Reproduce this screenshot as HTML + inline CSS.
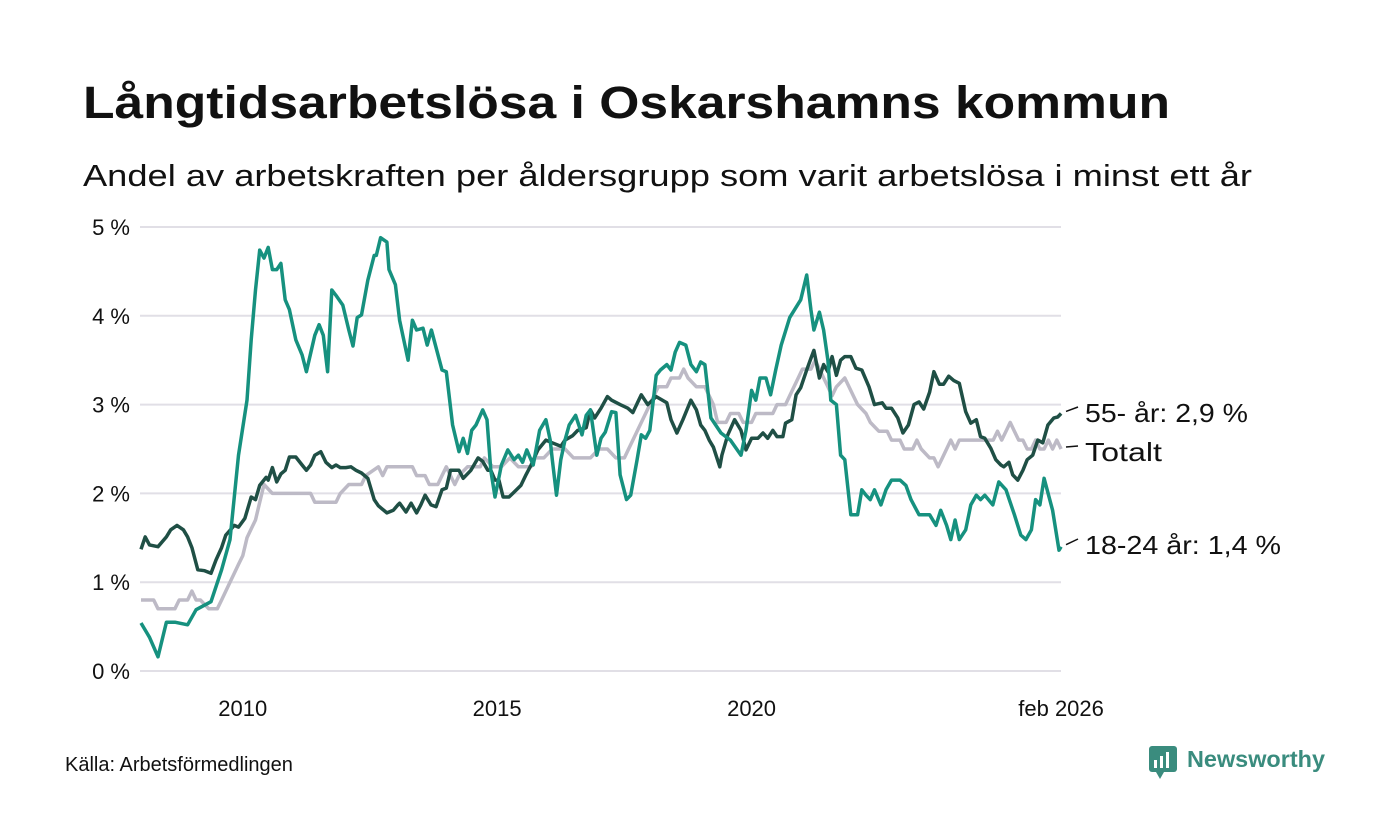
<!DOCTYPE html>
<html><head><meta charset="utf-8"><style>
html,body{margin:0;padding:0;background:#fff;}
svg{display:block;font-family:"Liberation Sans","DejaVu Sans",sans-serif;}
</style></head><body>
<svg id="chart" width="1400" height="840" viewBox="0 0 1400 840" xmlns="http://www.w3.org/2000/svg">
<text x="83" y="118" font-size="45" font-weight="bold" fill="#111" textLength="1087" lengthAdjust="spacingAndGlyphs">Långtidsarbetslösa i Oskarshamns kommun</text>
<text x="83" y="186" font-size="31" fill="#111" textLength="1169" lengthAdjust="spacingAndGlyphs">Andel av arbetskraften per åldersgrupp som varit arbetslösa i minst ett år</text>
<g id="grid"></g>
<g id="yticks"></g>
<g id="xticks"></g>
<g id="series"></g>
<g id="labels"></g>
<text x="65" y="771" font-size="20" fill="#111">Källa: Arbetsförmedlingen</text>
<g>
<rect x="1149" y="746" width="28" height="26" rx="3" fill="#3a8c7e"/>
<polygon points="1156,772 1164,772 1160,779" fill="#3a8c7e"/>
<rect x="1154" y="760" width="3" height="8" fill="#fff"/><rect x="1160" y="756" width="3" height="12" fill="#fff"/><rect x="1166" y="752" width="3" height="16" fill="#fff"/>
<text x="1187" y="767" font-size="23" font-weight="bold" fill="#3a8c7e" textLength="138" lengthAdjust="spacingAndGlyphs">Newsworthy</text>
</g>
</svg>
<script>
const yTicks=[0,1,2,3,4,5];
const yTickLabels=["0 %","1 %","2 %","3 %","4 %","5 %"];
const xTickMonths=[24,84,144,217];
const xTickLabels=["2010","2015","2020","feb 2026"];
// month index since Jan 2008
const youngMonths=[0,2,4,6,8,11,13,16.5,19,21,23,25,26,27,28,29,30,31,32,33,34,35,36.5,38,39,41,42,43,44,45,46,47.6,49,50,51,52,53.5,55,55.5,56.5,58,58.5,60,61,63,64,65,66.5,67.5,68.5,71,72,73.5,75,76,77,78,79,80.6,81.6,82.5,83.5,85,86.5,88,89,90,91,92.5,94,95.5,96.5,97,98,99,100,101,102.5,104,105,106,107.5,108.5,109.5,111,112,113,114.5,115.5,117,118,119,120,121.5,122.5,124,125,126,127,128.5,129.7,131,132,133,134.4,136.8,139,141.5,142.7,144,145,146,147.4,148.5,149.7,151,153,155.6,157,158,158.7,160,161,162,162.7,164,165,166,167.4,169,170,171,172,173,174.5,175.7,177,179,180.4,181.6,183.5,186,187.5,188.6,190,191,192,193,194.5,195.7,197,198,199,200.9,202.3,204,205,206,207.5,208.7,210,211,212,213,215,216.5,217];
const youngValues=[0.54,0.38,0.16,0.55,0.55,0.52,0.69,0.78,1.14,1.48,2.43,3.05,3.73,4.29,4.74,4.65,4.77,4.52,4.52,4.59,4.18,4.07,3.73,3.56,3.37,3.78,3.9,3.78,3.37,4.29,4.23,4.12,3.84,3.66,3.98,4.01,4.4,4.68,4.68,4.88,4.83,4.52,4.35,3.95,3.5,3.95,3.84,3.86,3.67,3.84,3.39,3.37,2.77,2.47,2.62,2.45,2.71,2.77,2.94,2.83,2.26,1.96,2.32,2.49,2.38,2.43,2.35,2.49,2.32,2.71,2.83,2.6,2.38,1.98,2.38,2.6,2.77,2.88,2.66,2.88,2.94,2.43,2.62,2.69,2.92,2.91,2.21,1.93,1.98,2.38,2.66,2.62,2.71,3.33,3.39,3.45,3.39,3.59,3.7,3.67,3.45,3.37,3.48,3.45,2.85,2.68,2.6,2.43,2.71,3.16,3.05,3.3,3.3,3.11,3.39,3.67,3.98,4.18,4.46,4.07,3.84,4.04,3.84,3.5,3.05,3.0,2.43,2.38,1.76,1.76,2.04,1.98,1.93,2.04,1.87,2.04,2.15,2.15,2.09,1.93,1.76,1.76,1.64,1.81,1.64,1.48,1.7,1.48,1.59,1.87,1.98,1.93,1.98,1.87,2.13,2.04,1.9,1.76,1.53,1.48,1.59,1.93,1.87,2.17,1.81,1.36,1.4];
const oldMonths=[0,1,2,4,6,7,8.5,10,11,12,13.4,15,16.5,17.7,19,20,22,23,24.5,26,27,28,29.5,30,31,32,33,34,35,36.5,38,39,40,41,42.4,43.6,45,46,47,48.3,49.5,50.7,52,53.5,55,56,58,59.5,60.6,61,62.5,63.7,65,66,67,68.4,69.6,71,72,73,75,76,77.8,79.5,80.6,81.8,82.5,83.5,84.4,85.4,86.8,87.7,89.6,90.8,92,93.6,95.5,97,99,100,101.8,103,105,106,107,108.5,110,111,113,114.8,116,118,119.5,121.5,124,125,126.4,127.8,129.7,131,132,133,134,135,136.5,137,138.4,140,141.5,142.7,144,145.5,146.7,147.8,149,150,151.4,152,153.5,154.5,155.6,157,158,158.7,160,161,162,163,164,165,166,167.4,168.6,170,171.7,173,174.8,175.7,177,178.5,179.7,181,182.3,183.5,184.6,186,187,188.3,189.3,190.5,191.7,193,194.5,195.7,197,198,199,200.4,201.6,202.8,203.5,204.7,205.6,206.8,208,209,210.3,211.5,212.7,213.9,215.3,216.2,217];
const oldValues=[1.37,1.51,1.42,1.4,1.51,1.59,1.64,1.59,1.51,1.39,1.14,1.13,1.1,1.25,1.39,1.53,1.64,1.62,1.72,1.96,1.93,2.09,2.18,2.15,2.29,2.13,2.22,2.26,2.41,2.41,2.32,2.26,2.32,2.43,2.47,2.35,2.29,2.32,2.29,2.29,2.3,2.26,2.23,2.17,1.93,1.86,1.78,1.81,1.87,1.89,1.79,1.89,1.78,1.87,1.98,1.87,1.85,2.04,2.06,2.26,2.26,2.17,2.26,2.4,2.36,2.26,2.26,2.15,2.15,1.96,1.96,2.0,2.09,2.21,2.32,2.49,2.6,2.57,2.53,2.6,2.65,2.71,2.74,2.94,2.85,2.96,3.09,3.05,3.0,2.96,2.91,3.11,3.0,3.09,3.02,2.83,2.68,2.83,3.05,2.94,2.77,2.71,2.6,2.52,2.3,2.43,2.66,2.83,2.71,2.49,2.62,2.62,2.68,2.62,2.71,2.64,2.64,2.79,2.83,3.11,3.19,3.39,3.52,3.61,3.3,3.45,3.37,3.54,3.33,3.5,3.54,3.54,3.41,3.39,3.2,3.0,3.02,2.96,2.96,2.85,2.68,2.77,3.0,3.03,2.95,3.14,3.37,3.23,3.23,3.32,3.27,3.24,2.92,2.79,2.83,2.64,2.62,2.51,2.38,2.32,2.3,2.35,2.21,2.15,2.26,2.38,2.43,2.6,2.57,2.77,2.85,2.86,2.9];
const totalMonths=[0,2,3,4,8,9,11,12,13,14,16,18,19,20,21,22,23,24,25,26,27,28,29,31,35,40,41,46,47,49,52,53,56,57,58,64,65,67,68,70,71,72,73,74,75,77,80,81,83,85,87,89,92,93,95,97,100,102,106,108,110,112,114,115,117,119,121,122,124,125,127,128,129,131,133,135,136,138,139,141,142,144,145,149,150,152,153,155,156,158,159,160,162,163,164,166,168,169,171,172,174,176,177,179,180,182,183,184,186,187,188,189,190,191,192,193,196,201,202,203,204,205,206,207,208,209,210,211,212,213,214,215,216,217];
const totalValues=[0.8,0.8,0.8,0.7,0.7,0.8,0.8,0.9,0.8,0.8,0.7,0.7,0.8,0.9,1.0,1.1,1.2,1.3,1.5,1.6,1.7,1.9,2.1,2.0,2.0,2.0,1.9,1.9,2.0,2.1,2.1,2.2,2.3,2.2,2.3,2.3,2.2,2.2,2.1,2.1,2.2,2.3,2.2,2.1,2.2,2.3,2.3,2.4,2.3,2.3,2.4,2.3,2.3,2.4,2.4,2.5,2.5,2.4,2.4,2.5,2.5,2.4,2.4,2.5,2.7,2.9,3.1,3.2,3.2,3.3,3.3,3.4,3.3,3.2,3.2,3.0,2.8,2.8,2.9,2.9,2.8,2.8,2.9,2.9,3.0,3.0,3.1,3.3,3.4,3.4,3.5,3.4,3.2,3.1,3.2,3.3,3.1,3.0,2.9,2.8,2.7,2.7,2.6,2.6,2.5,2.5,2.6,2.5,2.4,2.4,2.3,2.4,2.5,2.6,2.5,2.6,2.6,2.6,2.7,2.6,2.7,2.8,2.7,2.6,2.6,2.5,2.5,2.6,2.5,2.5,2.6,2.5,2.6,2.5];
const seriesLabels=["55- år: 2,9 %","Totalt","18-24 år: 1,4 %"];

const NS="http://www.w3.org/2000/svg";
const X0=141, MPX=4.24, Y0=671, VPX=88.8;
function xs(m){return X0+m*MPX;}
function ys(v){return Y0-v*VPX;}
function mk(tag,attrs,parent){const e=document.createElementNS(NS,tag);for(const k in attrs)e.setAttribute(k,attrs[k]);parent.appendChild(e);return e;}
const grid=document.getElementById('grid'),yt=document.getElementById('yticks'),xt=document.getElementById('xticks'),sg=document.getElementById('series'),lg=document.getElementById('labels');
yTicks.forEach((v,i)=>{
  const l=mk('line',{x1:140,x2:1061,y1:ys(v),y2:ys(v),stroke:'#e1dfe6','stroke-width':2},grid);
  
  
  const t=mk('text',{x:130,y:ys(v)+8,'font-size':22,'text-anchor':'end',fill:'#111'},yt);
  t.textContent=yTickLabels[i];
  
  
});
xTickMonths.forEach((m,i)=>{
  const t=mk('text',{x:xs(m),y:716,'font-size':22,'text-anchor':'middle',fill:'#111'},xt);
  t.textContent=xTickLabels[i];
  
  
});
function line(ms,vs,color,name){
  const p=mk('polyline',{points:ms.map((m,i)=>xs(m).toFixed(1)+','+ys(vs[i]).toFixed(1)).join(' '),fill:'none',stroke:color,'stroke-width':3.5,'stroke-linejoin':'round'},sg);
  
  
}
line(totalMonths,totalValues,'#bdbac6','line-totalt');
line(oldMonths,oldValues,'#1f4f45','line-55-plus');
line(youngMonths,youngValues,'#16917f','line-18-24');
const ends=[oldValues[oldValues.length-1],totalValues[totalValues.length-1],youngValues[youngValues.length-1]];
const labelY=[414,453,546];
const labelW=[163,77,196];
ends.forEach((v,i)=>{
  const l=mk('line',{x1:1066,y1:ys(v)-2,x2:1078,y2:labelY[i]-7,stroke:'#111','stroke-width':1.5},lg);
  
  
  const t=mk('text',{x:1085,y:labelY[i]+8,'font-size':26,fill:'#111',textLength:labelW[i],lengthAdjust:'spacingAndGlyphs'},lg);
  t.textContent=seriesLabels[i];
  
  
});
</script>
</body></html>
